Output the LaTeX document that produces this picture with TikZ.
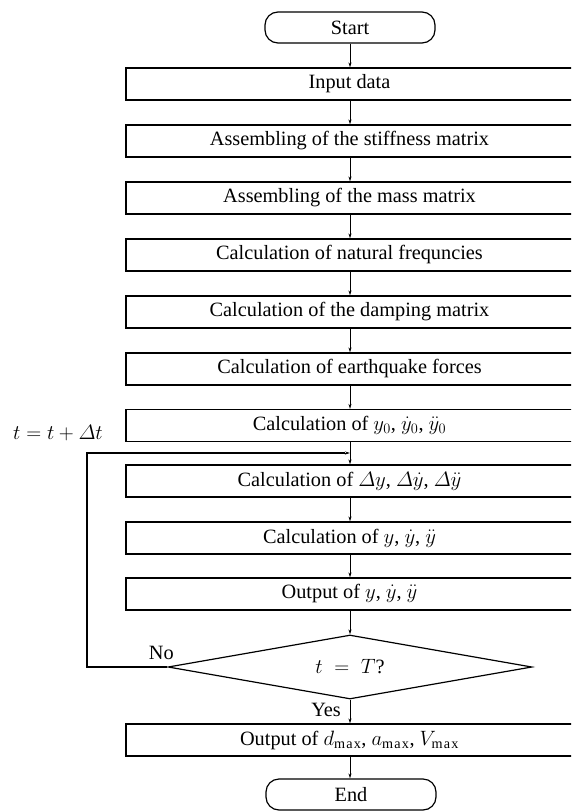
\documentclass[tikz,border=0pt]{standalone}
\usepackage{amsmath}
\usepackage{fontspec}
\setmainfont{Liberation Serif}
\usetikzlibrary{shapes.geometric,arrows.meta}
\newcommand{\mymax}{\mathrm{m\kern1.2pt a\kern1.2pt x}}
\begin{document}
\begin{tikzpicture}[x=1pt,y=-1pt,
  font=\fontsize{20.3}{23}\selectfont,
  procbox/.style={draw,line width=1.2pt,rectangle,inner sep=0pt,minimum width=447pt,minimum height=32pt},
  termbox/.style={draw,line width=1.2pt,rectangle,rounded corners=13pt,inner sep=0pt,minimum width=170pt,minimum height=31pt},
  decbox/.style={draw,line width=1.2pt,diamond,inner sep=0pt,minimum width=364pt,minimum height=64pt,aspect=5.69},
  flow/.style={line width=0.8pt,-{Stealth[length=5pt,width=3pt]}},
  plain/.style={line width=1.2pt}]
\useasboundingbox (0,0) rectangle (571,811);
\clip (0,0) rectangle (571,811);
\node[termbox] (start) at (350,27.5) {Start};
\node[procbox] (b1) at (349.5,84) {Input data};
\node[procbox] (b2) at (349.5,141) {Assembling of the stiffness matrix};
\node[procbox] (b3) at (349.5,198) {Assembling of the mass matrix};
\node[procbox] (b4) at (349.5,255) {Calculation of natural frequncies};
\node[procbox] (b5) at (349.5,312) {Calculation of the damping matrix};
\node[procbox] (b6) at (349.5,369) {Calculation of earthquake forces};
\node[procbox] (b7) at (349.5,425.5) {Calculation of $y_0$, $\dot{y}_0$, $\ddot{y}_0$};
\node[procbox] (b8) at (349.5,481) {Calculation of $\varDelta y$, $\varDelta\dot{y}$, $\varDelta\ddot{y}$};
\node[procbox] (b9) at (349.5,538) {Calculation of $y$, $\dot{y}$, $\ddot{y}$};
\node[procbox] (b10) at (349.5,594) {Output of $y$, $\dot{y}$, $\ddot{y}$};
\node[decbox] (d) at (350,667) {$t\;=\;T$?};
\node[procbox] (b11) at (349.5,740) {Output of $d_{\mymax}$, $a_{\mymax}$, $V_{\mymax}$};
\node[termbox] (end) at (351,794.5) {End};
\node (lbl) at (58,433) {$t=t+\varDelta t$};
\node[anchor=east,inner sep=0pt] (no) at (174,653) {No};
\node[anchor=east,inner sep=0pt] (yes) at (341,710) {Yes};
\coordinate (lc) at (87,667);
\coordinate (lt) at (87,453);
\coordinate (jn) at (350,453);
\draw[flow] (start.south) -- (b1.north -| start.south);
\draw[flow] (b1.south -| start.south) -- (b2.north -| start.south);
\draw[flow] (b2.south -| start.south) -- (b3.north -| start.south);
\draw[flow] (b3.south -| start.south) -- (b4.north -| start.south);
\draw[flow] (b4.south -| start.south) -- (b5.north -| start.south);
\draw[flow] (b5.south -| start.south) -- (b6.north -| start.south);
\draw[flow] (b6.south -| start.south) -- (b7.north -| start.south);
\draw[flow] (b7.south -| start.south) -- (b8.north -| start.south);
\draw[flow] (b8.south -| start.south) -- (b9.north -| start.south);
\draw[flow] (b9.south -| start.south) -- (b10.north -| start.south);
\draw[flow] (b10.south -| start.south) -- (d.north);
\draw[flow] (d.south) -- (b11.north -| d.south);
\draw[flow] (b11.south -| d.south) -- (end.north -| d.south);
\draw[plain] (d.west) -- (lc) -- (lt) -- ([xshift=-5pt]jn);
\draw[flow] ([xshift=-6pt]jn) -- (jn);
\end{tikzpicture}
\end{document}
